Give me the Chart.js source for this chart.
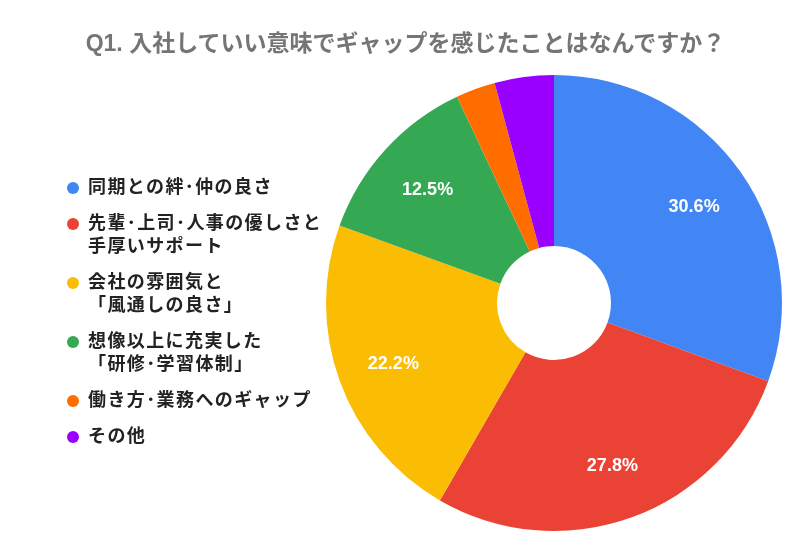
<!DOCTYPE html>
<html>
<head>
<meta charset="utf-8">
<script src="https://cdn.jsdelivr.net/npm/chart.js@4"></script>
<style>
    body { margin: 0; background: #fff; font-family: "Liberation Sans", "Noto Sans CJK JP", sans-serif; }
    #wrap { position: relative; width: 811px; height: 559px; }
    #title {
        position: absolute; left: 0; top: 28px; width: 811px; line-height: 30px;
        text-align: center; font-size: 23px; font-weight: bold; color: #757575;
    }
    #legend { position: absolute; left: 67px; top: 176px; }
    .item { display: flex; align-items: flex-start; margin-bottom: 13px; font-size: 18px; letter-spacing: 1.4px; font-weight: bold; color: #222; line-height: 23px; }
    .dot { width: 12px; height: 12px; border-radius: 50%; margin: 6px 9px 0 0; flex: none; }
    canvas { position: absolute; left: 0; top: 0; }
</style>
</head>
<body>
<div id="wrap">
    <canvas id="pie" width="811" height="559"></canvas>
    <div id="title">Q1. 入社していい意味でギャップを感じたことはなんですか？</div>
    <div id="legend"></div>
</div>
<script>
const labels = [
    ["同期との絆･仲の良さ"],
    ["先輩･上司･人事の優しさと", "手厚いサポート"],
    ["会社の雰囲気と", "「風通しの良さ」"],
    ["想像以上に充実した", "「研修･学習体制」"],
    ["働き方･業務へのギャップ"],
    ["その他"]
];
const values = [30.6, 27.8, 22.2, 12.5, 2.8, 4.2];
const colors = ["#4285f4", "#ea4335", "#fbbc04", "#34a853", "#ff6d01", "#9900ff"];

const legend = document.getElementById("legend");
labels.forEach((lines, i) => {
    legend.innerHTML += `
    <div class="item">
        <span class="dot" style="background:${colors[i]}"></span>
        <span>${lines.join("<br>")}</span>
    </div>`;
});

const pctLabels = {
    id: "pctLabels",
    afterDatasetsDraw(chart) {
        const ctx = chart.ctx;
        const meta = chart.getDatasetMeta(0);
        ctx.save();
        ctx.font = "bold 18px 'Liberation Sans', Arial, sans-serif";
        ctx.fillStyle = "#fff";
        ctx.textAlign = "center";
        ctx.textBaseline = "middle";
        meta.data.forEach((arc, i) => {
            if (values[i] < 5) return;
            const p = arc.getProps(["x", "y", "startAngle", "endAngle", "outerRadius"], true);
            const a = (p.startAngle + p.endAngle) / 2;
            const r = p.outerRadius * 0.75;
            ctx.fillText(values[i].toFixed(1) + "%", p.x + Math.cos(a) * r, p.y + Math.sin(a) * r + 2);
        });
        ctx.restore();
    }
};

new Chart(document.getElementById("pie"), {
    type: "doughnut",
    data: {
        labels: labels.map(l => l.join("")),
        datasets: [{
            data: values,
            backgroundColor: colors,
            borderWidth: 0
        }]
    },
    options: {
        responsive: false,
        animation: false,
        cutout: "25%",
        layout: { padding: { left: 326, right: 29, top: 75, bottom: 28 } },
        plugins: {
            legend: { display: false },
            tooltip: { enabled: false }
        }
    },
    plugins: [pctLabels]
});
</script>
</body>
</html>
